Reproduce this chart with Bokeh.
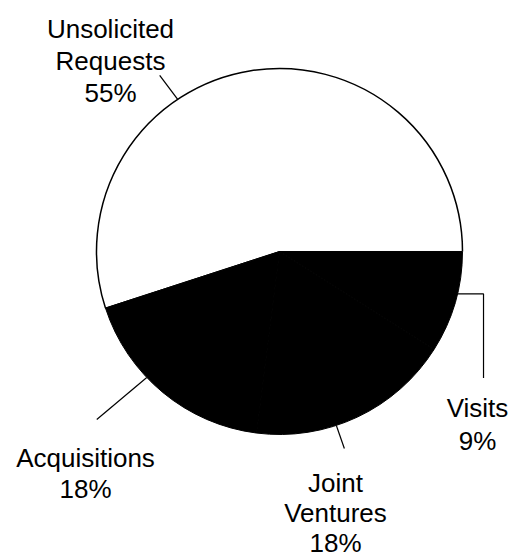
import math
from bokeh.plotting import figure
from bokeh.models import Range1d
from bokeh.core.properties import value
from bokeh.embed import file_html
from bokeh.resources import INLINE

# ---- data ----
categories = ["Unsolicited Requests", "Acquisitions", "Joint Ventures", "Visits"]
label_lines = [["Unsolicited", "Requests"], ["Acquisitions"], ["Joint", "Ventures"], ["Visits"]]
shares = [55, 18, 18, 9]
colors = ["#ffffff", "#000000", "#000000", "#000000"]

# ---- layout (pixel geometry of the page) ----
W, H = 515, 559
def X(px):  # page x -> data x
    return px
def Y(py):  # page y -> data y
    return H - py

cx, cy, R = X(279), Y(251), 183
FONT = value("Liberation Sans")
FS = "26px"

p = figure(width=W, height=H, output_backend="svg", toolbar_location=None,
           x_range=Range1d(0, W), y_range=Range1d(0, H), min_border=0)
p.axis.visible = False
p.grid.visible = False
p.outline_line_color = None
p.background_fill_color = "white"

# wedges
total = sum(shares)
starts, ends = [], []
acc = 0.0
for s in shares:
    starts.append(2 * math.pi * acc / total)
    acc += s
    ends.append(2 * math.pi * acc / total)

p.wedge(x=[cx] * len(shares), y=[cy] * len(shares), radius=R,
        start_angle=starts, end_angle=ends, fill_color=colors,
        line_color=colors, line_width=1)
# white slice outline
p.arc(x=cx, y=cy, radius=R, start_angle=starts[0], end_angle=ends[0],
      line_color="black", line_width=1.5)
p.line([cx, cx + R * math.cos(ends[0])], [cy, cy + R * math.sin(ends[0])],
       line_color="black", line_width=1)

# leader lines: angle on rim (deg) and offsets (page px) to the outer end
leader_angle = [123.8, 223.5, 288.1, 346.6]
leader_path = [[(-18, -24)], [(-50, 42)], [(8, 23)], [(26, 0), (26, 84)]]
for ang, path in zip(leader_angle, leader_path):
    a = math.radians(ang)
    x0, y0 = cx + R * math.cos(a), cy + R * math.sin(a)
    xs, ys = [x0], [y0]
    for dx, dy in path:
        xs.append(x0 + dx)
        ys.append(y0 - dy)
    p.line(xs, ys, line_color="black", line_width=1.2)

# labels: centre x, first baseline and line pitch (page px)
label_pos = [(110, 28, 32), (85, 457, 31), (335, 482, 30), (477, 407, 33)]
for lines, share, (lx, ly, pitch) in zip(label_lines, shares, label_pos):
    texts = lines + [f"{share}%"]
    ys = [Y(ly + i * pitch) for i in range(len(texts))]
    p.text(x=[X(lx)] * len(texts), y=ys, text=texts, text_align="center",
           text_baseline="alphabetic", text_font=FONT, text_font_size=FS,
           text_color="black")

open("out.html", "w").write(file_html(p, INLINE))
